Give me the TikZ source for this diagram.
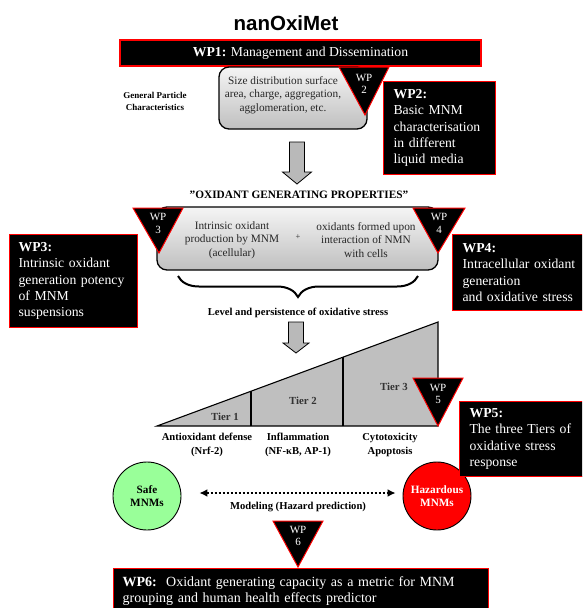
\documentclass[tikz,border=0pt]{standalone}
\usepackage{fontspec}
\setmainfont{Liberation Serif}
\newfontfamily\headfont{Liberation Sans}
\usetikzlibrary{arrows.meta,decorations.pathreplacing,calc}

\tikzset{
  wpbox/.style={draw=red, fill=black, line width=1.2pt, text=white, inner ysep=0pt,
    anchor=north west, align=left, font=\fontsize{13.7}{16.4}\selectfont},
  wptri/.style={draw=red, fill=black, line width=1pt, line join=miter},
  wptag/.style={text=white, font=\fontsize{11}{12.5}\selectfont, align=center, inner sep=0pt},
  gradbox/.style={draw=black, line width=1.3pt, rounded corners=10pt,
    top color=gray!8, bottom color=gray!50, inner sep=0pt},
  bigarrow/.style={draw=black, fill=gray!55, line width=0.8pt, line join=miter},
  boldlabel/.style={font=\bfseries\fontsize{10.6}{14}\selectfont, align=center, inner sep=0pt},
  bodytext/.style={font=\fontsize{11.3}{13.3}\selectfont, align=center, inner sep=0pt, text=black!85},
  tierlabel/.style={font=\bfseries\fontsize{10.8}{12}\selectfont, text=black!80, inner sep=0pt},
  bubble/.style={circle, draw=black, line width=0.9pt, minimum size=68pt, inner sep=0pt,
    align=center, font=\bfseries\fontsize{11.2}{13.5}\selectfont},
  dotarrow/.style={line width=2.3pt, dash pattern=on 2.4pt off 1.6pt,
    {Latex[length=8pt,width=8pt]}-{Latex[length=8pt,width=8pt]}},
}

\begin{document}
\begin{tikzpicture}[x=1pt, y=-1pt]
\clip (0,0) rectangle (582,608);

% project title
\node[font=\headfont\bfseries\fontsize{20.5}{24}\selectfont, inner sep=0pt] (title) at (286,23) {nanOxiMet};

% WP1 bar
\node[draw=red, fill=black, line width=1.2pt, text=white, minimum width=361pt, minimum height=26pt,
      inner sep=0pt, font=\fontsize{13.7}{15}\selectfont] (wp1) at (300.5,53)
      {\textbf{WP1:} Management and Dissemination};

% general particle characteristics
\node[boldlabel, font=\bfseries\fontsize{9}{12}\selectfont] (gpc) at (155,101) {General Particle\\Characteristics};
\node[gradbox, minimum width=148pt, minimum height=62pt] (sizebox) at (293,98) {};
\node[bodytext] (sizetext) at (283,95) {Size distribution surface\\area, charge, aggregation,\\agglomeration, etc.};

% WP2 marker and box
\draw[wptri] (339,67) -- (389,67) -- (365,115) -- cycle;
\node[wptag] (wp2tag) at (364,84) {WP\\2};
\node[wpbox, minimum height=93pt, inner xsep=10pt, text width=92pt] (wp2) at (383,81)
  {\textbf{WP2:}\\Basic MNM\\characterisation\\in different\\liquid media};

% first downward arrow
\coordinate (a1) at (297,142);
\draw[bigarrow] ($(a1)+(-7.5,0)$) -- ($(a1)+(7.5,0)$) -- ($(a1)+(7.5,30)$) -- ($(a1)+(14.5,30)$)
  -- ($(a1)+(0,42)$) -- ($(a1)+(-14.5,30)$) -- ($(a1)+(-7.5,30)$) -- cycle;

\node[boldlabel, font=\bfseries\fontsize{11.3}{12}\selectfont] (ogp) at (299,195) {"OXIDANT GENERATING PROPERTIES"};

% oxidant generating properties box
\node[gradbox, minimum width=281pt, minimum height=63pt] (ogbox) at (297.5,238.5) {};
\node[bodytext] (intr) at (232,240) {Intrinsic oxidant\\production by MNM\\(acellular)};
\node[bodytext, font=\fontsize{8.5}{9}\selectfont] (plus) at (298,237) {+};
\node[bodytext] (cell) at (366,240) {oxidants formed upon\\interaction of NMN\\with cells};

% WP3 and WP4 markers
\draw[wptri] (133,208) -- (183,208) -- (159,253) -- cycle;
\node[wptag] (wp3tag) at (158,223.5) {WP\\3};
\draw[wptri] (413,208) -- (465,208) -- (438,253) -- cycle;
\node[wptag] (wp4tag) at (439,223.5) {WP\\4};

\node[wpbox, minimum height=93pt, inner xsep=9pt, text width=110pt] (wp3) at (9,234)
  {\textbf{WP3:}\\Intrinsic oxidant\\generation potency\\of MNM\\suspensions};
\node[wpbox, minimum height=76pt, inner xsep=10pt, text width=125pt] (wp4) at (452,234)
  {\textbf{WP4:}\\Intracellular oxidant\\generation\\and oxidative stress};

% brace gathering both contributions
\coordinate (brL) at (178,276);
\coordinate (brR) at (418,276);
\draw[decorate, decoration={brace, mirror, amplitude=21pt}, line width=2pt] (brL) -- (brR);

\node[boldlabel] (level) at (298,313) {Level and persistence of oxidative stress};

% second downward arrow
\coordinate (a2) at (296,322);
\draw[bigarrow] ($(a2)+(-7.5,0)$) -- ($(a2)+(7.5,0)$) -- ($(a2)+(7.5,21)$) -- ($(a2)+(13,21)$)
  -- ($(a2)+(0,31)$) -- ($(a2)+(-13,21)$) -- ($(a2)+(-7.5,21)$) -- cycle;

% tiers of oxidative stress
\coordinate (wA) at (157,426);
\coordinate (wB) at (438,426);
\coordinate (wC) at (438,322);
\draw[fill=gray!50, draw=black, line width=1.1pt, line join=miter] (wA) -- (wB) -- (wC) -- cycle;
\draw[line width=1.1pt] (251,426) -- (251,391.2);
\draw[line width=1.1pt] (343,426) -- (343,357.2);
\node[tierlabel] (t1) at (225,417) {Tier 1};
\node[tierlabel] (t2) at (303,401) {Tier 2};
\node[tierlabel] (t3) at (394,387) {Tier 3};

\draw[wptri] (413,378) -- (463,378) -- (438,426) -- cycle;
\node[wptag] (wp5tag) at (438,394) {WP\\5};

\node[boldlabel] (anti) at (207,445) {Antioxidant defense\\(Nrf-2)};
\node[boldlabel] (infl) at (298,445) {Inflammation\\(NF-κB, AP-1)};
\node[boldlabel] (cyto) at (390,445) {Cytotoxicity\\Apoptosis};

% hazard prediction
\node[bubble, fill={rgb,255:red,153;green,255;blue,153}] (safe) at (147,496) {Safe\\MNMs};
\node[bubble, fill=red, text=white] (haz) at (437,496) {Hazardous\\MNMs};
\draw[dotarrow, shorten <=18pt, shorten >=7pt] ([yshift=3pt]safe.east) -- ([yshift=3pt]haz.west);
\node[boldlabel] (model) at (298,507) {Modeling (Hazard prediction)};

\node[wpbox, minimum height=75pt, inner xsep=10pt, text width=115pt] (wp5) at (459,401)
  {\textbf{WP5:}\\The three Tiers of\\oxidative stress\\response};

% WP6 marker and box
\draw[wptri] (273,521) -- (323,521) -- (298,567) -- cycle;
\node[wptag] (wp6tag) at (298,536) {WP\\6};
\node[wpbox, minimum height=45pt, inner xsep=9pt, text width=357pt, font=\fontsize{14}{16.7}\selectfont] (wp6) at (113,568)
  {\textbf{WP6:}\ \ Oxidant generating capacity as a metric for MNM\\grouping and human health effects predictor};
\end{tikzpicture}
\end{document}
